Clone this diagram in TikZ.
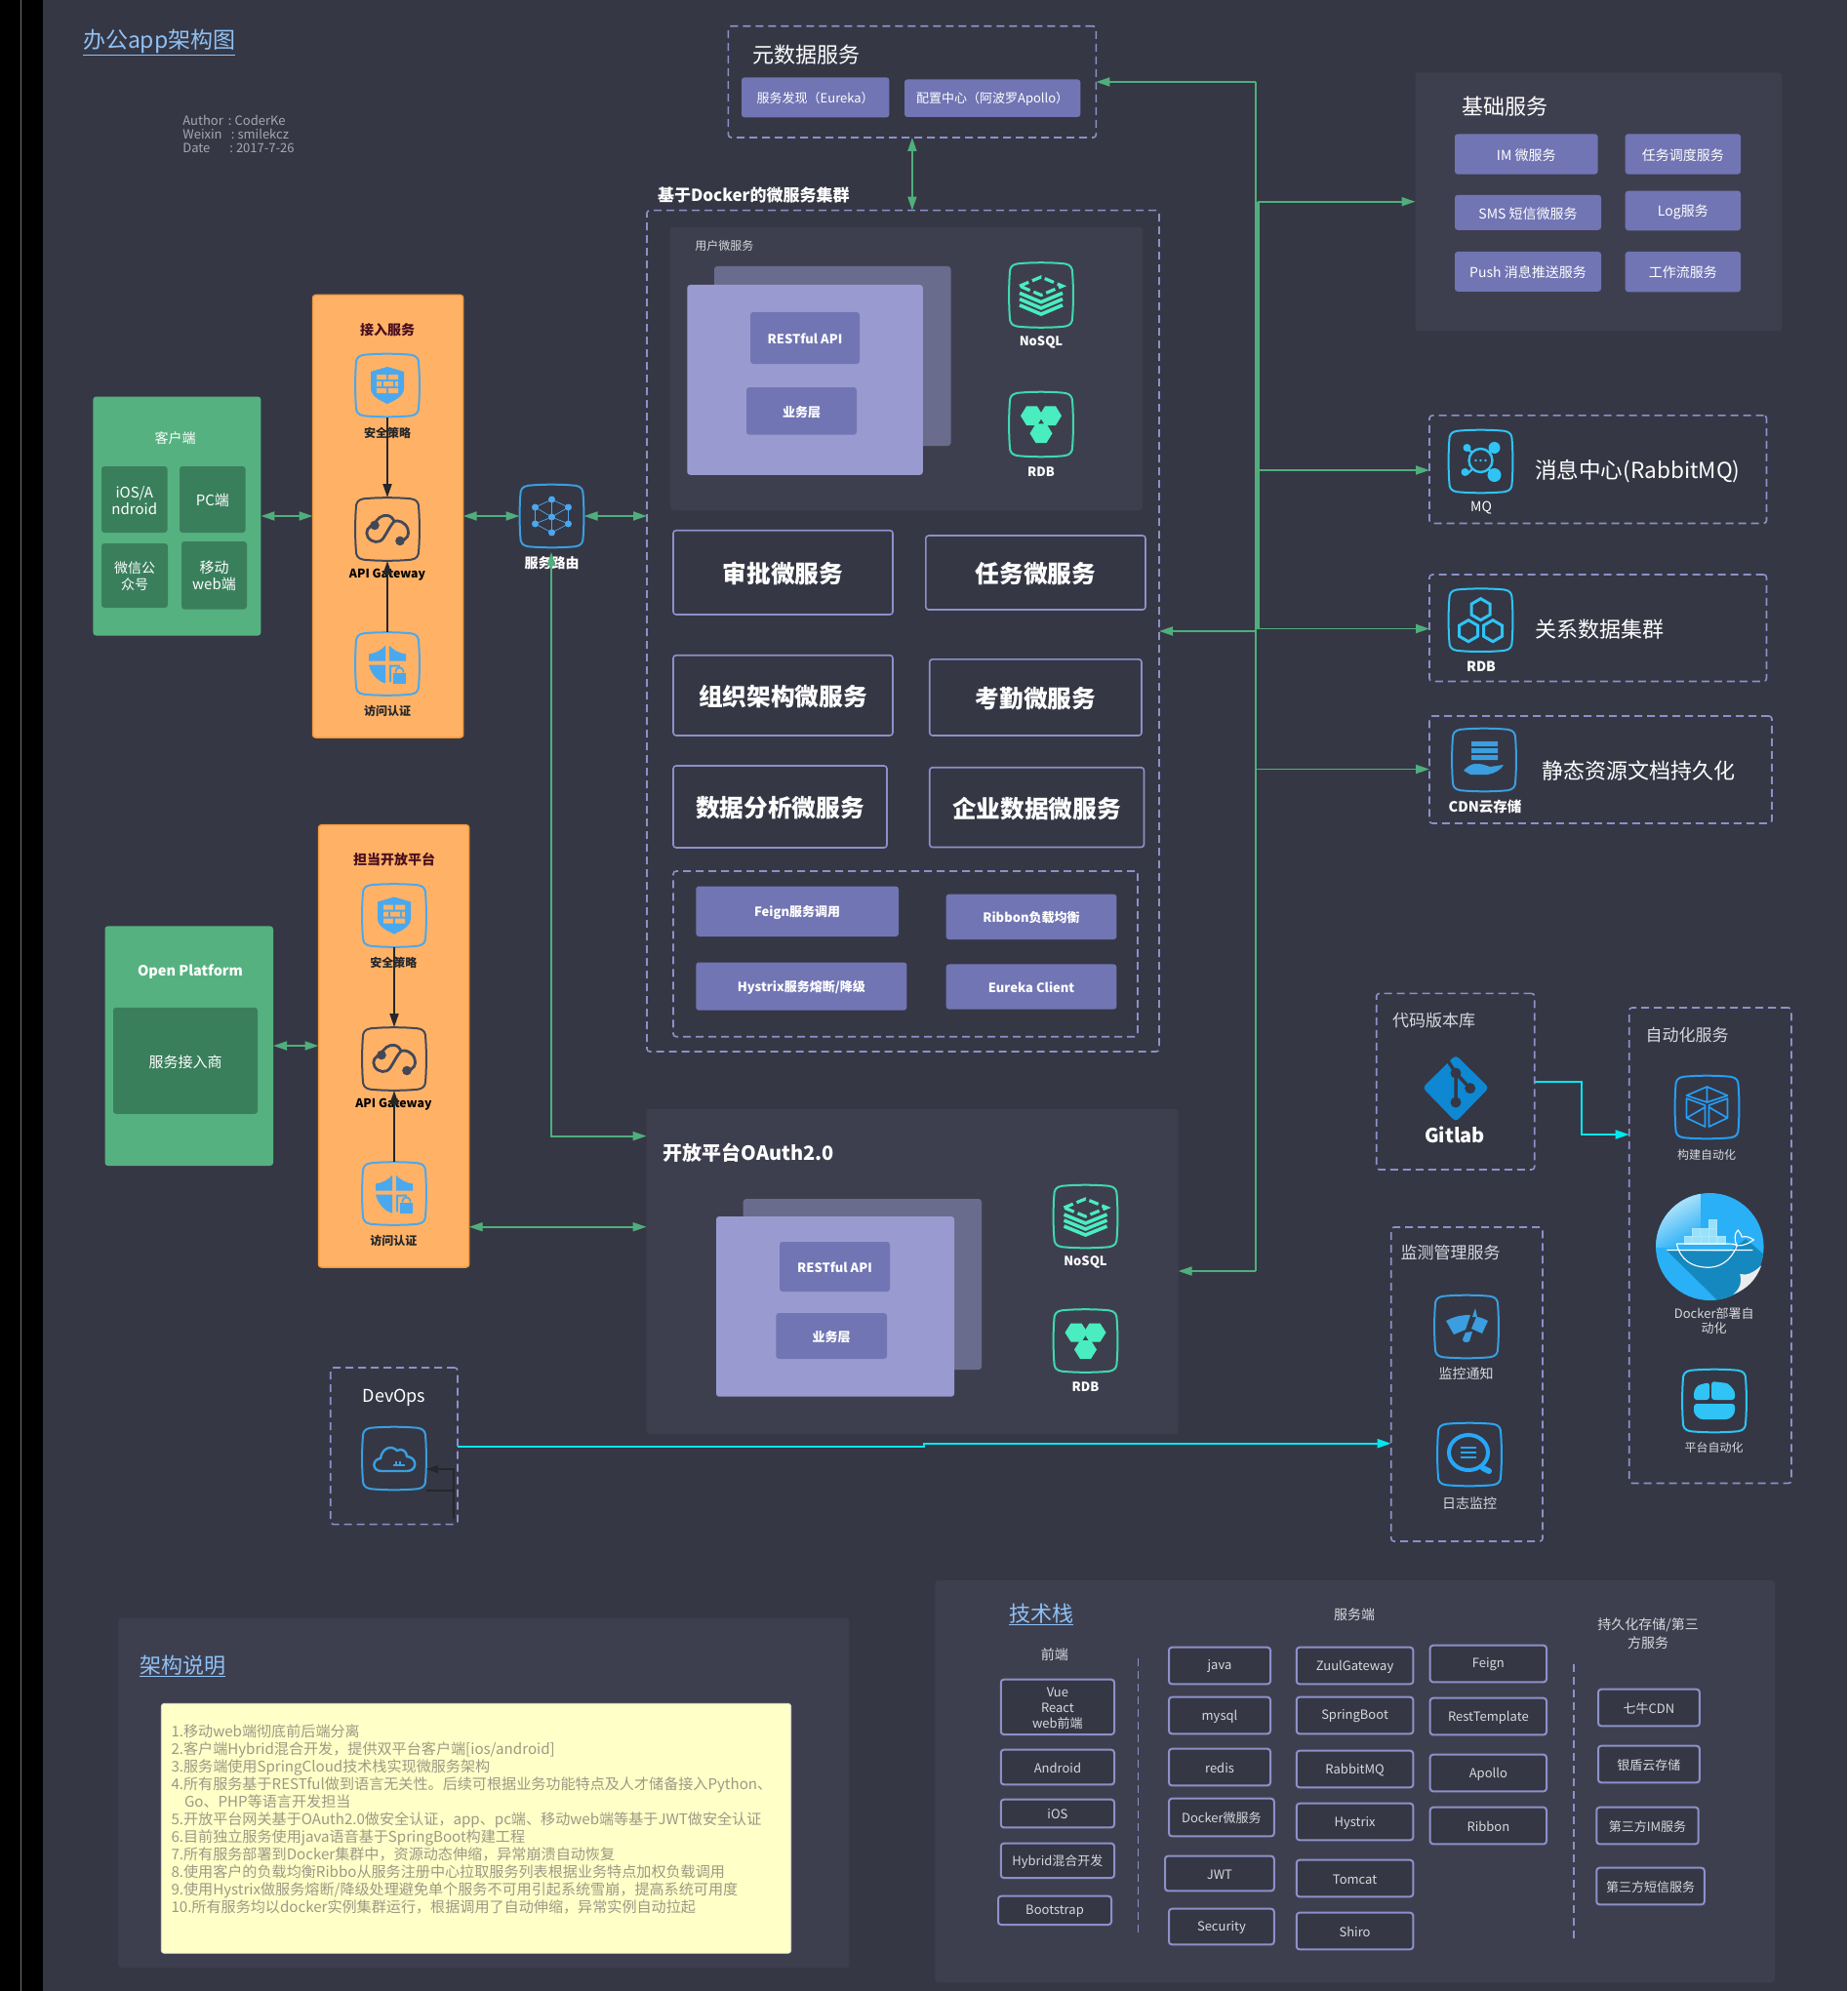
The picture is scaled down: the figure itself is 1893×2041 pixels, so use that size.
\documentclass[tikz,border=0pt]{standalone}
\usepackage{fontspec}
\setmainfont{Noto Sans CJK SC}
\usetikzlibrary{arrows.meta,calc}
\definecolor{bgc}{HTML}{353744}
\definecolor{panelc}{HTML}{3E3F4E}
\definecolor{lilac}{HTML}{8D90C9}
\definecolor{btn}{HTML}{7175B4}
\definecolor{cardf}{HTML}{999BD0}
\definecolor{cardb}{HTML}{6A6C8E}
\definecolor{grn}{HTML}{56B180}
\definecolor{dgrn}{HTML}{3A7F5C}
\definecolor{org}{HTML}{FFB266}
\definecolor{orgd}{HTML}{F79A3C}
\definecolor{gline}{HTML}{50AE7C}
\definecolor{teal}{HTML}{49EDBF}
\definecolor{tealf}{HTML}{3FD9AF}
\definecolor{sblue}{HTML}{4AA8EE}
\definecolor{mblue}{HTML}{3A9EE0}
\definecolor{cyn}{HTML}{2FC4F5}
\definecolor{aqua}{HTML}{00E8F0}
\definecolor{dgate}{HTML}{434858}
\definecolor{link}{HTML}{8FC1F5}
\definecolor{maroon}{HTML}{4A0F1F}
\definecolor{yel}{HTML}{FFFFC8}
\definecolor{yeltx}{HTML}{9A9A86}
\definecolor{soft}{HTML}{D8D8DE}
\definecolor{dkb}{HTML}{1589BF}
\definecolor{dkr}{HTML}{26272B}
\newcommand\fz[2]{\fontsize{#1}{#2}\selectfont}
\tikzset{
  base/.style={rectangle,inner sep=0pt,outer sep=0pt,align=center,rounded corners=3pt,text=white},
  pan/.style={base,fill=panelc},
  dbox/.style={base,draw=lilac,line width=1.6pt,dash pattern=on 8pt off 5pt},
  sbox/.style={base,draw=lilac,line width=1.6pt},
  tbox/.style={base,draw=lilac,line width=2pt,fill=bgc,text=soft,font=\fz{13}{16}},
  btnb/.style={base,fill=btn},
  grnb/.style={base,fill=grn},
  dgb/.style={base,fill=dgrn},
  orgb/.style={base,fill=org,draw=orgd,line width=1.5pt},
  lab/.style={inner sep=0pt,outer sep=0pt,align=center,text=white,yshift=-1pt},
  ib/.style={inner sep=0pt,outer sep=0pt,rectangle,minimum width=66pt,minimum height=65pt},
  garrow/.style={draw=gline,line width=1.8pt},
  carrow/.style={draw=aqua,line width=2pt},
  darrow/.style={draw=dkr,line width=2pt},
  >={Triangle[length=14pt,width=9pt]},
}
\newcommand\bx[7]{\pgfmathsetmacro\bw{#5-#3}\pgfmathsetmacro\bh{#6-#4}%
  \node[#1,minimum width=\bw pt,minimum height=\bh pt] (#2) at ({(#3+#5)/2},{(#4+#6)/2}) {};%
  \ifx&#7&\else\node[#1,draw=none,fill=none,yshift=-1pt] (#2-lab) at (#2.center) {#7};\fi}
\newcommand\tx[5]{\node[lab,#1] (#2) at (#3,#4) {#5};}
\newcommand\ico[6][]{\node[ib] (#2) at (#3,#4) {};%
  \begin{scope}[shift={(#3,#4)},#1]
  \draw[draw=#5,line width=2pt,line join=round,scale=.975] (-25,-32) .. controls (-10,-33.5) and (10,-33.5) .. (25,-32) .. controls (31,-31) and (33,-28) .. (33,-22) .. controls (34,-8) and (34,8) .. (33,22) .. controls (33,28) and (31,31) .. (25,32) .. controls (10,33.5) and (-10,33.5) .. (-25,32) .. controls (-31,31) and (-33,28) .. (-33,22) .. controls (-34,8) and (-34,-8) .. (-33,-22) .. controls (-33,-28) and (-31,-31) .. (-25,-32) -- cycle;
  #6
  \end{scope}}
\newcommand\gShield{%
  \fill[sblue] (-17,-14) -- (0,-19) -- (17,-14) -- (17,3) .. controls (17,12) and (6,16) .. (0,19) .. controls (-6,16) and (-17,12) .. (-17,3) -- cycle;
  \fill[org] (-11,-11) rectangle (-1,-6) (1,-11) rectangle (11,-6) (-11,-4) rectangle (-6,1) (-4,-4) rectangle (6,1) (8,-4) rectangle (11,1) (-11,3) rectangle (-1,8) (1,3) rectangle (11,8);}
\newcommand\gGate{%
  \draw[dgate,line width=2.8pt] (-13,-4) .. controls (-20,-4) and (-23,3) .. (-20,8) .. controls (-16,14) and (-8,15) .. (-4,9) .. controls (0,3) and (3,-4) .. (7,-8) .. controls (11,-10) and (19,-7) .. (21,0) .. controls (23,6) and (20,11) .. (13,12);
  \draw[dgate,line width=2.8pt] (-13,-4) .. controls (-12,-11) and (-5,-15) .. (0,-14) .. controls (3,-14) and (6,-11) .. (7,-8);
  \fill[dgate] (-13,-4) circle[radius=4.8pt] (13,12) circle[radius=4.8pt];}
\newcommand\gAuth{%
  \fill[sblue] (-19,-10) .. controls (-12,-11) and (-6,-14) .. (-2,-19) -- (-2,-3) -- (-19,-3) -- cycle;
  \fill[sblue] (2,-19) .. controls (6,-14) and (12,-11) .. (19,-10) -- (19,-3) -- (2,-3) -- cycle;
  \fill[sblue] (-19,1) -- (-2,1) -- (-2,20) .. controls (-10,18) and (-17,10) .. (-19,1) -- cycle;
  \fill[sblue] (2,1) -- (13,1) -- (13,3) -- (4,3) -- (4,18) -- (2,19) -- cycle;
  \fill[sblue] (6,9) rectangle (19,20);
  \draw[sblue,line width=1.6pt] (8.5,9) .. controls (8.5,2) and (16.5,2) .. (16.5,9);}
\newcommand\gNet{%
  \draw[sblue,line width=.7pt] (0,-17) -- (-17,-9) -- (0,1) -- (17,-9) -- (0,-17) (0,-17) -- (0,17) (-17,-9) -- (-17,8) -- (0,17) -- (17,8) -- (17,-9) (-17,8) -- (0,1) -- (17,8);
  \fill[sblue] (0,-17) circle[radius=3.5pt] (-17,-9) circle[radius=3.5pt] (17,-9) circle[radius=3.5pt] (0,1) circle[radius=3.5pt] (-17,8) circle[radius=3.5pt] (17,8) circle[radius=3.5pt] (0,17) circle[radius=3.5pt];}
\newcommand\gStack{%
  \draw[teal,line width=3.2pt,dash pattern=on 10pt off 4pt] (-22,-9) -- (0,-18) -- (22,-9) -- (0,0) -- cycle;
  \draw[teal,line width=3.6pt] (-22,-2) -- (0,7) -- (22,-2) (-22,4) -- (0,13) -- (22,4) (-22,10) -- (0,19) -- (22,10);}
\newcommand\hexf[2]{\fill[teal] (#1-11.5,#2) -- (#1-5.5,#2-9.5) -- (#1+5.5,#2-9.5) -- (#1+11.5,#2) -- (#1+5.5,#2+9.5) -- (#1-5.5,#2+9.5) -- cycle;}
\newcommand\gRdb{\hexf{-9.5}{-8.5}\hexf{9.5}{-8.5}\hexf{0}{9}}
\newcommand\hexo[2]{\draw[cyn,line width=3pt] (#1,#2-11) -- (#1+9.5,#2-5.5) -- (#1+9.5,#2+5.5) -- (#1,#2+11) -- (#1-9.5,#2+5.5) -- (#1-9.5,#2-5.5) -- cycle;}
\newcommand\gRdbo{\hexo{0}{-11}\hexo{-12.5}{11}\hexo{12.5}{11}}
\newcommand\gMq{%
  \draw[cyn,line width=2.2pt] (-14,-14) -- (14,14) (14,-13) -- (-14,13);
  \fill[bgc] (0,-1) circle[radius=12pt];
  \draw[cyn,line width=2.4pt] (0,-1) circle[radius=12pt];
  \fill[cyn] (-5,-1) circle[radius=1.3pt] (0,-1) circle[radius=1.3pt] (5,-1) circle[radius=1.3pt] (-14,-14) circle[radius=4pt] (14,-14) circle[radius=6pt] (-16,11) circle[radius=4pt] (14,14) circle[radius=7pt];}
\newcommand\gCdn{%
  \fill[mblue] (-13,-19) rectangle (14,-14) (-13,-12) rectangle (14,-7) (-13,-5) rectangle (14,0);
  \fill[mblue] (-21,11) .. controls (-14,3) and (-8,3) .. (0,5) -- (6,7) -- (20,5) .. controls (18,10) and (10,14) .. (4,15) -- (-14,15) -- cycle;}
\newcommand\gCloud{%
  \draw[mblue,line width=2.4pt] (-13,13) .. controls (-23,13) and (-23,1) .. (-14,0) .. controls (-13,-9) and (-4,-15) .. (3,-8) .. controls (8,-11) and (13,-7) .. (13,-2) .. controls (24,-1) and (24,13) .. (13,13) -- cycle;
  \draw[mblue,line width=2.4pt] (-1,7) -- (11,7) (2,3) -- (2,7) (6,3) -- (6,7);}
\newcommand\gCube{%
  \draw[cyn!80!blue,line width=1.7pt,line join=round] (0,-21) -- (21,-12) -- (0,-5) -- (-21,-12) -- cycle (0,-21) -- (0,-5)
   (-21,-9) -- (-2,-2) -- (-2,20) -- (-21,11) -- cycle (-21,11) -- (-2,0)
   (21,-9) -- (2,-2) -- (2,20) -- (21,11) -- cycle (21,11) -- (2,0);}
\newcommand\gPlat{%
  \fill[cyn,rounded corners=3pt] (-21,-1) -- (-21,-10) -- (-17,-16) -- (-5,-19) -- (-5,-1) -- cycle (-3,-1) -- (-3,-20) -- (14,-18) -- (21,-10) -- (21,-1) -- cycle (-21,3) -- (21,3) -- (21,13) -- (15,19) -- (-15,19) -- (-21,13) -- cycle;}
\newcommand\gMon{%
  \fill[mblue] (-21,-6) .. controls (-12,-11) and (-4,-12) .. (4,-12) -- (-1,3) -- (-13,8) -- cycle;
  \fill[mblue] (10,-10) .. controls (14,-10) and (18,-8) .. (22,-6) -- (16,7) -- (5,2) -- cycle;
  \fill[mblue] (9,-19) -- (11,-10) -- (6,-10) -- cycle;
  \fill[mblue] (-1,6) -- (6,5) -- (3,15) .. controls (0,17) and (-4,16) .. (-4,13) -- cycle;}
\newcommand\gLog{%
  \draw[cyn!85!blue,line width=4pt] (-1,-2) ellipse[x radius=20pt,y radius=18pt];
  \draw[cyn!85!blue,line width=6pt,line cap=round] (14,14) -- (20,17);
  \draw[cyn!85!blue,line width=2pt] (-9,-7) -- (7,-7) (-9,-2) -- (7,-2) (-9,3) -- (7,3);}
\begin{document}
\begin{tikzpicture}[x=1pt,y=-1pt]
\useasboundingbox (0,0) rectangle (1893,2041);
\fill[bgc] (0,0) rectangle (1893,2041);
\fill[black] (0,0) rectangle (44,2041);
\draw[bgc!70!white,line width=1pt] (21.5,0) -- (21.5,2041);
% title
\tx{anchor=west,text=link,font=\fz{23}{28}}{title}{85}{42.5}{\underline{办公app架构图}}
\node[lab,anchor=north west,text=soft!70!bgc,align=left,font=\fz{13}{14}] (author) at (187.4,117.5)
 {\makebox[46.6pt][l]{Author}:\hspace{3pt}CoderKe\\\makebox[49.6pt][l]{Weixin}:\hspace{3pt}smilekcz\\\makebox[48pt][l]{Date}:\hspace{3pt}2017-7-26};
% client
\bx{grnb}{cli}{95.4}{406.6}{267.4}{651.5}{}
\tx{font=\fz{14}{17}}{clit}{179.5}{448}{客户端}
\bx{dgb,font=\fz{15}{17}}{c1}{104}{478}{171.6}{546}{iOS/A\\ndroid}
\bx{dgb,font=\fz{15}{17}}{c2}{184}{478}{251.7}{546}{PC端}
\bx{dgb,font=\fz{14}{17}}{c3}{104}{557}{172}{623}{微信公\\众号}
\bx{dgb,font=\fz{15}{17}}{c4}{186}{555}{253}{624.5}{移动\\web端}
% access
\bx{orgb}{acc}{320.5}{302.5}{474.7}{756}{}
\tx{text=maroon,font=\fz{14}{17}\bfseries}{acct}{397}{337}{接入服务}
\ico{a1}{397}{395}{sblue}{\gShield}
\tx{text=dkr,font=\fz{12}{14}\bfseries}{a1t}{397}{443}{安全策略}
\ico{a2}{397}{542.5}{dgate}{\gGate}
\tx{text=black,font=\fz{12.3}{14}\bfseries}{a2t}{397}{588}{API Gateway}
\ico{a3}{397}{680.5}{sblue}{\gAuth}
\tx{text=dkr,font=\fz{12}{14}\bfseries}{a3t}{397}{728}{访问认证}
% router
\ico{rtr}{565.5}{529}{mblue}{\gNet}
\tx{font=\fz{14}{17}\bfseries}{rtrt}{565.5}{576.5}{服务路由}
% meta
\bx{dbox}{meta}{746.4}{26.8}{1123.4}{141}{}
\tx{anchor=west,font=\fz{22}{26}}{metat}{771.7}{55}{元数据服务}
\bx{btnb,font=\fz{13}{16}}{m1}{760}{79.3}{911.4}{120.4}{服务发现（Eureka）}
\bx{btnb,font=\fz{13}{16}}{m2}{927}{81.4}{1107.3}{120}{配置中心（阿波罗Apollo）}
% cluster
\tx{anchor=west,font=\fz{17}{20}\bfseries}{clut}{674}{199}{基于Docker的微服务集群}
\bx{dbox}{clu}{663}{215.7}{1188}{1078}{}
\bx{pan}{usr}{686.7}{232.9}{1171}{523}{}
\tx{anchor=west,text=soft,font=\fz{12}{14}}{usrt}{712.4}{251}{用户微服务}
\bx{base,fill=cardb}{ub}{732}{273}{974.5}{457}{}
\bx{base,fill=cardf}{uf}{704.3}{292}{945.8}{486.8}{}
\bx{btnb,font=\fz{13}{16}\bfseries}{u1}{769}{320}{881}{373}{RESTful API}
\bx{btnb,font=\fz{13}{16}\bfseries}{u2}{765}{397}{878}{445.7}{业务层}
\ico[yscale=1.03]{un}{1067}{302.5}{tealf}{\gStack}
\tx{font=\fz{13}{16}\bfseries}{unt}{1067}{350}{NoSQL}
\ico[yscale=1.03]{ur}{1067}{435}{tealf}{\gRdb}
\tx{font=\fz{13}{16}\bfseries}{urt}{1067}{483}{RDB}
\bx{sbox,font=\fz{24.7}{28}\bfseries}{s1}{690}{543.7}{915}{630}{审批微服务}
\bx{sbox,font=\fz{24.7}{28}\bfseries}{s2}{948.8}{549}{1174}{625}{任务微服务}
\bx{sbox,font=\fz{24.7}{28}\bfseries}{s3}{690}{671.7}{915}{754}{组织架构微服务}
\bx{sbox,font=\fz{24.7}{28}\bfseries}{s4}{952.7}{675.8}{1170}{754}{考勤微服务}
\bx{sbox,font=\fz{24.7}{28}\bfseries}{s5}{690}{785}{909}{869}{数据分析微服务}
\bx{sbox,font=\fz{24.7}{28}\bfseries}{s6}{952.7}{786.7}{1172.5}{868.5}{企业数据微服务}
\bx{dbox}{inn}{690}{893}{1166}{1062.7}{}
\bx{btnb,font=\fz{13}{16}\bfseries}{i1}{713.3}{908.5}{921}{960}{Feign服务调用}
\bx{btnb,font=\fz{13}{16}\bfseries}{i2}{969.6}{916.6}{1144.4}{963}{Ribbon负载均衡}
\bx{btnb,font=\fz{13}{16}\bfseries}{i3}{713.3}{986.5}{929.3}{1035.7}{Hystrix服务熔断/降级}
\bx{btnb,font=\fz{13}{16}\bfseries}{i4}{969.6}{988.4}{1144.4}{1034.6}{Eureka Client}
% base services
\bx{pan}{bas}{1450.5}{74.4}{1826}{339}{}
\tx{anchor=west,font=\fz{22}{26}}{bast}{1498}{108}{基础服务}
\bx{btnb,font=\fz{14}{17}}{b1}{1491}{137.3}{1637.5}{178.6}{IM 微服务}
\bx{btnb,font=\fz{14}{17}}{b2}{1665.7}{137.3}{1784}{178.6}{任务调度服务}
\bx{btnb,font=\fz{14}{17}}{b3}{1491}{199.8}{1641}{235.8}{SMS 短信微服务}
\bx{btnb,font=\fz{14}{17}}{b4}{1665.7}{195.6}{1784}{236.3}{Log服务}
\bx{btnb,font=\fz{14}{17}}{b5}{1491}{258}{1641}{298.8}{Push 消息推送服务}
\bx{btnb,font=\fz{14}{17}}{b6}{1665.7}{258}{1784}{299.3}{工作流服务}
% mq, rdb, cdn
\bx{dbox}{mq}{1465}{425.9}{1810.5}{536.5}{}
\ico{mqi}{1517.5}{473}{cyn}{\gMq}
\tx{font=\fz{14}{17}}{mqt}{1518}{519.6}{MQ}
\tx{anchor=west,font=\fz{22.6}{26}}{mqn}{1573}{482}{消息中心(RabbitMQ)}
\bx{dbox}{rd}{1465}{589}{1810.5}{698.5}{}
\ico{rdi}{1517.5}{635.7}{cyn}{\gRdbo}
\tx{font=\fz{14}{17}\bfseries}{rdt}{1518}{682.6}{RDB}
\tx{anchor=west,font=\fz{22}{26}}{rdn}{1573}{644}{关系数据集群}
\bx{dbox}{cd}{1465}{734}{1816}{844}{}
\ico{cdi}{1521}{779}{mblue}{\gCdn}
\tx{font=\fz{14.5}{17}\bfseries}{cdt}{1522}{826}{CDN云存储}
\tx{anchor=west,font=\fz{22}{26}}{cdn}{1580.5}{789.5}{静态资源文档持久化}
% open platform
\bx{grnb}{opn}{107.5}{949.4}{280}{1195}{}
\tx{font=\fz{14.5}{18}\bfseries}{opnt}{195}{995.5}{Open Platform}
\bx{dgb,font=\fz{15}{18}}{opi}{116}{1032.8}{264}{1141.9}{服务接入商}
\bx{orgb}{oac}{326.5}{845.7}{480.7}{1299}{}
\tx{text=maroon,font=\fz{14}{17}\bfseries}{oact}{404}{880}{担当开放平台}
\ico{o1}{404}{938.5}{sblue}{\gShield}
\tx{text=dkr,font=\fz{12}{14}\bfseries}{o1t}{403.4}{985.8}{安全策略}
\ico{o2}{404}{1085.5}{dgate}{\gGate}
\tx{text=black,font=\fz{12.3}{14}\bfseries}{o2t}{403.4}{1131}{API Gateway}
\ico{o3}{404}{1223.5}{sblue}{\gAuth}
\tx{text=dkr,font=\fz{12}{14}\bfseries}{o3t}{403.4}{1271}{访问认证}
% devops
\bx{dbox}{dev}{338.7}{1402}{469}{1562.6}{}
\tx{font=\fz{18}{22}}{devt}{404}{1431.5}{DevOps}
\ico{devi}{404}{1495}{mblue}{\gCloud}
% oauth
\bx{pan}{oau}{662.6}{1136.7}{1207.6}{1470}{}
\tx{anchor=west,font=\fz{20}{24}\bfseries}{oaut}{679.5}{1181}{开放平台OAuth2.0}
\bx{base,fill=cardb}{ob}{761.7}{1229}{1006}{1404}{}
\bx{base,fill=cardf}{of}{734}{1247}{978}{1431.7}{}
\bx{btnb,font=\fz{13}{16}\bfseries}{ou1}{799}{1273}{912}{1324}{RESTful API}
\bx{btnb,font=\fz{13}{16}\bfseries}{ou2}{795.4}{1346}{909}{1393}{业务层}
\ico{on}{1112.5}{1247}{tealf}{\gStack}
\tx{font=\fz{13}{16}\bfseries}{ont}{1112.5}{1293}{NoSQL}
\ico{or}{1112.5}{1374.5}{tealf}{\gRdb}
\tx{font=\fz{13}{16}\bfseries}{ort}{1112.5}{1421}{RDB}
% gitlab
\bx{dbox}{git}{1410.7}{1018.4}{1572.7}{1199}{}
\tx{anchor=west,text=soft,font=\fz{17}{20}}{gitt}{1427}{1045}{代码版本库}
\fill[cyan!70!blue,rounded corners=4pt] (1492,1081.5) -- (1526,1115) -- (1492,1150) -- (1458,1115) -- cycle;
\draw[bgc,line width=3.5pt] (1483,1086) -- (1492,1100) -- (1492,1130) (1492,1100) -- (1506.7,1115.6);
\fill[bgc] (1492,1100) circle[radius=5.5pt] (1506.7,1115.6) circle[radius=5.5pt] (1492,1130) circle[radius=5.5pt];
\tx{font=\fz{20}{24}\bfseries}{gitn}{1491}{1162.6}{Gitlab}
% automation
\bx{dbox}{aut}{1669.7}{1033}{1836}{1520.5}{}
\tx{anchor=west,text=soft,font=\fz{17}{20}}{autt}{1686.7}{1060}{自动化服务}
\ico{au1}{1749.5}{1135}{cyn!80!blue}{\gCube}
\tx{text=soft,font=\fz{12}{14}}{au1t}{1749}{1183}{构建自动化}
\begin{scope}[shift={(1752.3,1278)}]
  \begin{scope}
    \clip (0,0) ellipse[x radius=55.3pt,y radius=55pt];
    \fill[cyn!90!blue] (-56,-56) rectangle (56,56);
    \shade[left color=white!85!cyn,right color=cyn!90!blue,shading angle=30,opacity=.9] (-56,-56) rectangle (-10,0);
    \fill[dkb] (-44,4) -- (9,56) -- (60,50) -- (60,12) -- (37,-8) -- (20,5) -- cycle;
  \end{scope}
  \fill[gray!15] (31,28) .. controls (37,30) and (45,27) .. (53,19) .. controls (47,35) and (38,43) .. (24,49) .. controls (32,42) and (33,35) .. (31,28) -- cycle;
  \foreach \cx/\cy in {-26/-11,-17.6/-11,-9.2/-11,-0.8/-11,7.6/-11,-18/-19.2,-9.6/-19.2,-1.2/-19.2,-1.2/-27.4}
    \draw[white!60!cyn,fill=cyn!50!white,line width=.5pt] (\cx,\cy) rectangle ++(8.2,8.2);
  \draw[white,line width=1.1pt] (-44,3.5) -- (44,3.5) (-34,-3) -- (16,-3) .. controls (22,-3) and (26,-3) .. (28,-1) .. controls (22,14) and (10,23) .. (-6,21) .. controls (-18,20) and (-30,14) .. (-34,-3) (28,-1) .. controls (25,-5) and (25,-15) .. (29,-17) .. controls (31,-14) and (33,-12) .. (33,-10) .. controls (37,-11) and (41,-10) .. (45,-7) .. controls (40,-3) and (34,-1) .. (28,-1);
\end{scope}
\node[ib,minimum width=110pt,minimum height=110pt] (dkn) at (1752.3,1278) {};
\tx{text=soft,font=\fz{13}{15}}{dkrt}{1756.7}{1353.5}{Docker部署自\\动化}
\ico{au3}{1757}{1436}{cyn}{\gPlat}
\tx{text=soft,font=\fz{12}{14}}{au3t}{1756.7}{1483}{平台自动化}
% monitor
\bx{dbox}{mon}{1425.7}{1258}{1581}{1580}{}
\tx{anchor=west,text=soft,font=\fz{17}{20}}{mont}{1435.7}{1283}{监测管理服务}
\ico{mo1}{1503}{1360}{mblue}{\gMon}
\tx{text=soft,font=\fz{14}{17}}{mo1t}{1502.7}{1407.6}{监控通知}
\ico{mo2}{1506}{1491}{cyn!85!blue}{\gLog}
\tx{text=soft,font=\fz{14}{17}}{mo2t}{1506}{1539.6}{日志监控}
% note panel
\bx{pan}{npan}{121.4}{1658.7}{870.4}{2017}{}
\tx{anchor=west,text=link,font=\fz{22}{26}}{npt}{143.4}{1706.7}{\underline{架构说明}}
\bx{base,fill=yel,draw=white!85!bgc,line width=.8pt}{nbox}{165.3}{1746.3}{810.7}{2002.3}{}
\node[lab,anchor=north west,align=left,text=yeltx,font=\fz{15.1}{18}] (ntxt) at (175.5,1766.5) {1.移动web端彻底前后端分离\\
2.客户端Hybrid混合开发，提供双平台客户端[ios/android]\\
3.服务端使用SpringCloud技术栈实现微服务架构\\
4.所有服务基于RESTful做到语言无关性。后续可根据业务功能特点及人才储备接入Python、\\
\hspace*{13.5pt}Go、PHP等语言开发担当\\
5.开放平台网关基于OAuth2.0做安全认证，app、pc端、移动web端等基于JWT做安全认证\\
6.目前独立服务使用java语音基于SpringBoot构建工程\\
7.所有服务部署到Docker集群中，资源动态伸缩，异常崩溃自动恢复\\
8.使用客户的负载均衡Ribbo从服务注册中心拉取服务列表根据业务特点加权负载调用\\
9.使用Hystrix做服务熔断/降级处理避免单个服务不可用引起系统雪崩，提高系统可用度\\
10.所有服务均以docker实例集群运行，根据调用了自动伸缩，异常实例自动拉起};
% stack panel
\bx{pan}{span}{958.4}{1620}{1819}{2032}{}
\tx{anchor=west,text=link,font=\fz{22}{26}}{spt}{1034}{1654}{\underline{技术栈}}
\tx{text=soft,font=\fz{14}{18}}{sp1}{1080.8}{1694.7}{前端}
\tx{text=soft,font=\fz{14}{18}}{sp2}{1388}{1654}{服务端}
\tx{text=soft,font=\fz{14}{18.7}}{sp3}{1689}{1673.5}{持久化存储/第三\\方服务}
\bx{tbox,font=\fz{13}{16}}{t1}{1025.8}{1721.7}{1142}{1778}{Vue\\React\\web前端}
\bx{tbox}{t2}{1025.8}{1793.7}{1142}{1829.3}{Android}
\bx{tbox}{t3}{1025.8}{1844.7}{1142}{1873.3}{iOS}
\bx{tbox}{t4}{1025.8}{1889.7}{1142}{1925}{Hybrid混合开发}
\bx{tbox}{t5}{1023}{1943.7}{1139}{1973}{Bootstrap}
\coordinate (d1a) at (1166.6,1700); \coordinate (d1b) at (1166.6,1986);
\draw[lilac,line width=1.6pt,dash pattern=on 8pt off 5pt] (d1a) -- (d1b);
\bx{tbox}{j1}{1198}{1688.7}{1302}{1726.3}{java}
\bx{tbox}{j2}{1198}{1739.7}{1302}{1777.3}{mysql}
\bx{tbox}{j3}{1198}{1792.7}{1302}{1830.3}{redis}
\bx{tbox}{j4}{1198}{1843.7}{1305.8}{1882.3}{Docker微服务}
\bx{tbox}{j5}{1194}{1902.7}{1305.8}{1938.3}{JWT}
\bx{tbox}{j6}{1198}{1956.7}{1305.8}{1993.3}{Security}
\bx{tbox}{k1}{1328.8}{1688.7}{1448.3}{1726.3}{ZuulGateway}
\bx{tbox}{k2}{1328.8}{1739.7}{1448.3}{1777.3}{SpringBoot}
\bx{tbox}{k3}{1328.8}{1794.7}{1448.3}{1832.3}{RabbitMQ}
\bx{tbox}{k4}{1328.8}{1848.7}{1448.3}{1886.3}{Hystrix}
\bx{tbox}{k5}{1328.8}{1906.7}{1448.3}{1944.3}{Tomcat}
\bx{tbox}{k6}{1328.8}{1960.7}{1448.3}{1998.3}{Shiro}
\bx{tbox}{l1}{1465.7}{1686.7}{1585}{1724.3}{Feign}
\bx{tbox}{l2}{1465.7}{1740.7}{1585}{1778.3}{RestTemplate}
\bx{tbox}{l3}{1465.7}{1798.7}{1585}{1836.3}{Apollo}
\bx{tbox}{l4}{1465.7}{1852.7}{1585}{1890.3}{Ribbon}
\coordinate (d2a) at (1612.7,1706); \coordinate (d2b) at (1612.7,1990);
\draw[lilac,line width=1.6pt,dash pattern=on 8pt off 5pt] (d2a) -- (d2b);
\bx{tbox}{p1}{1638}{1731.7}{1741.8}{1769.3}{七牛CDN}
\bx{tbox}{p2}{1638}{1789.7}{1741.8}{1827.3}{银盾云存储}
\bx{tbox}{p3}{1636.3}{1852.7}{1740.7}{1890.3}{第三方IM服务}
\bx{tbox}{p4}{1636.3}{1914.7}{1746.8}{1952.3}{第三方短信服务}
% connectors
\draw[darrow,->] (a1.south) -- (a2.north);
\draw[darrow,->] (a3.north) -- (a2.south);
\draw[darrow,->] (o1.south) -- (o2.north);
\draw[darrow,->] (o3.north) -- (o2.south);
\draw[garrow,<->] (cli.east |- rtr.center) -- (acc.west |- rtr.center);
\draw[garrow,<->] (acc.east |- rtr.center) -- (rtr.west);
\draw[garrow,<->] (rtr.east) -- (clu.west |- rtr.center);
\coordinate (up) at (565,566);
\coordinate (rc) at (565,1164.6);
\draw[garrow,<->] (up) -- (rc) -- (oau.west |- rc);
\draw[garrow,<->] (meta.south) -- (clu.north -| meta.south);
\coordinate (ol) at (0,1072);
\draw[garrow,<->] (opn.east |- ol) -- (oac.west |- ol);
\coordinate (ol2) at (0,1257.7);
\draw[garrow,<->] (oac.east |- ol2) -- (oau.west |- ol2);
% trunk
\coordinate (tr0) at (1287,84);
\coordinate (tr1) at (1289,206.7);
\coordinate (tr2) at (1287,482);
\coordinate (tr3) at (1289,644.5);
\coordinate (tr4) at (1287,647);
\coordinate (tr5) at (1287,788.5);
\coordinate (tr6) at (1287,1303);
\draw[garrow] (tr0) -- (tr6);
\draw[gline,line width=3.2pt] (tr1) -- (tr3);
\draw[garrow,->] (tr0) -- (meta.east |- tr0);
\draw[garrow,->] (tr1) -- (bas.west);
\draw[garrow,->] (tr2) -- (mq.west |- tr2);
\draw[garrow,->] (tr3) -- (rd.west |- tr3);
\draw[garrow,->] (tr4) -- (clu.east |- tr4);
\draw[garrow,->] (tr5) -- (cd.west |- tr5);
\draw[garrow,->] (tr6) -- (oau.east |- tr6);
% cyan
\coordinate (g1) at (1620.7,1109);
\coordinate (g2) at (1620.7,1163);
\draw[carrow,->] (git.east |- g1) -- (g1) -- (g2) -- (aut.west |- g2);
\coordinate (v1) at (947,1482.5);
\coordinate (v2) at (947,1479.7);
\draw[carrow,->] (dev.east |- v1) -- (v1) -- (v2) -- (mon.west |- v2);
% devops dark loop
\coordinate (w1) at (465,1506);
\coordinate (w2) at (465,1527.7);
\coordinate (w3) at (465,1557);
\draw[darrow,line width=1.6pt,{Triangle[length=12pt,width=8pt]}-] (devi.east |- w1) -- (w1) -- (w3);
\draw[darrow,line width=1.6pt] (devi.east |- w2) -- (w2);
\end{tikzpicture}
\end{document}
